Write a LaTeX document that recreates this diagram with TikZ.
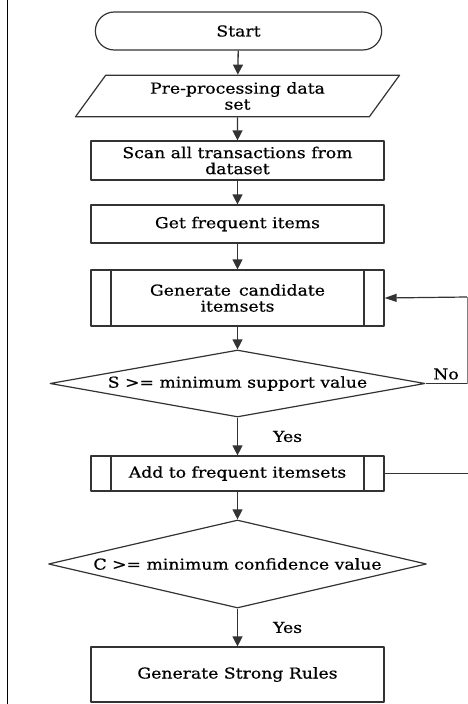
\documentclass[tikz,border=0pt]{standalone}
\usepackage{fontspec}
\setmainfont{DejaVu Serif}[FakeStretch=1.15, FakeBold=0.6]
\usetikzlibrary{shapes.geometric,shapes.misc,arrows.meta}
\tikzset{
  box/.style={draw, line width=1.2pt, rectangle, minimum width=293pt, align=center, inner sep=0pt},
  subbox/.style={box, path picture={
      \draw[line width=1.2pt] ([xshift=20pt]path picture bounding box.north west) -- ([xshift=20pt]path picture bounding box.south west);
      \draw[line width=1.2pt] ([xshift=-20pt]path picture bounding box.north east) -- ([xshift=-20pt]path picture bounding box.south east);}},
  decision/.style={draw, line width=1.2pt, diamond, inner sep=0pt, align=center},
  flow/.style={line width=1.3pt, -{Triangle[width=10pt,length=10pt]}},
  lbl/.style={inner sep=1pt}
}
\begin{document}
\begin{tikzpicture}[x=1pt, y=-1pt, font=\fontsize{15}{16}\selectfont, line join=round, draw=black!80]
	\useasboundingbox (0,0) rectangle (468,704);
	\draw[line width=1pt, black] (7,0) -- (7,704);
	% flow boxes
	\node[draw, line width=1.2pt, rounded rectangle, minimum width=293pt, minimum height=38pt] (start) at (238.5,31) {Start};
	\node[draw, line width=1.2pt, trapezium, trapezium left angle=54, trapezium right angle=126, minimum width=325pt, minimum height=38pt, align=center, inner sep=0pt] (prep) at (237.5,96) {Pre-processing data\\set};
	\node[box, minimum height=39pt] (scan) at (237.5,160.5) {Scan all transactions from\\dataset};
	\node[box, minimum height=38pt] (getfreq) at (237.5,224) {Get frequent items};
	\node[subbox, minimum height=56pt] (gencand) at (237.5,298) {Generate\, candidate\\itemsets};
	\node[decision, aspect=5.6, minimum width=375pt, minimum height=67pt] (supp) at (237.5,383.5) {S >= minimum support value};
	\node[subbox, minimum height=35pt] (addfreq) at (237.5,473.5) {Add to frequent itemsets};
	\node[decision, aspect=4.3, minimum width=378pt, minimum height=88pt] (conf) at (237.5,564) {C >= minimum confidence value};
	\node[box, minimum height=55pt] (rules) at (237.5,674.5) {Generate Strong Rules};
	% connectors
	\draw[flow] (start) -- (prep);
	\draw[flow] (prep) -- (scan);
	\draw[flow] (scan) -- (getfreq);
	\draw[flow] (getfreq) -- (gencand);
	\draw[flow] (gencand) -- (supp);
	\draw[flow] (supp) -- node[lbl, right=34pt] {Yes} (addfreq);
	\draw[flow] (addfreq) -- (conf);
	\draw[flow] (conf) -- node[lbl, right=34pt] {Yes} (rules);
	% loop back
	\coordinate (loopbot) at (467,383.5);
	\coordinate (looptop) at (467,297);
	\coordinate (addend) at (468,473.5);
	\draw[line width=1.2pt] (supp.east) -- (loopbot);
	\node[lbl] (no) at (446,374) {No};
	\draw[line width=0.5pt, gray] (loopbot) -- (looptop);
	\draw[line width=1.2pt, -{Triangle[width=8pt,length=12pt]}] (looptop) -- (gencand.east);
	\draw[line width=1.2pt] (addfreq.east) -- (addend);
\end{tikzpicture}
\end{document}
